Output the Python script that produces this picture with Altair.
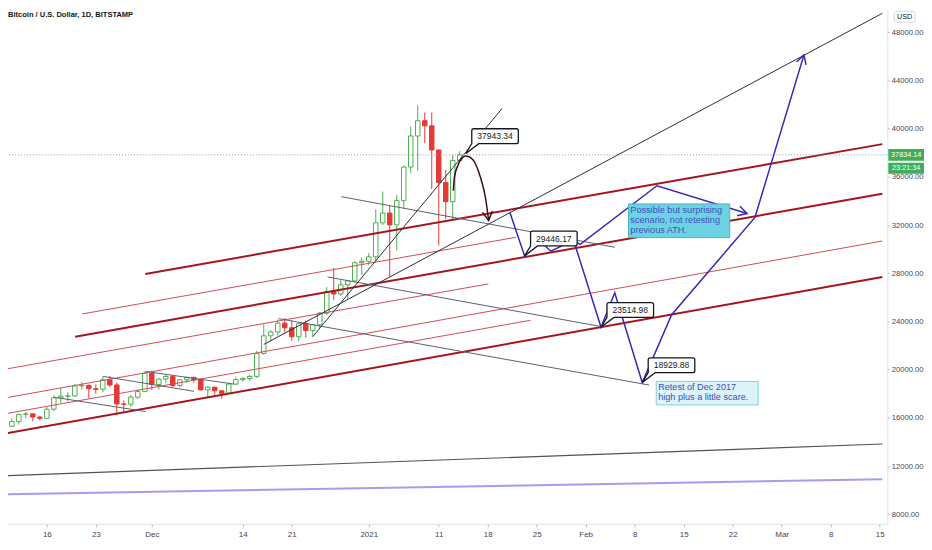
import altair as alt
import pandas as pd

BASE_MS = 1609459200000  # 2021-01-01 00:00 UTC
DAY_MS = 86400000


def to_ms(d):
    return BASE_MS + d * DAY_MS


FONT = "Liberation Sans, Arial, sans-serif"

# ---------------- candles (days relative to 2021-01-01) ----------------
candle_day = list(range(-52, 14))  # 2020-11-10 .. 2021-01-14
opens = [15330, 15300, 15700, 16290, 16330, 16070, 15960, 16720, 17660, 17800, 17820, 18650, 18700, 18420, 18370, 19160, 18730, 17150, 17130, 17720, 18180,
         19700, 18770, 19220, 19440, 18690, 19160, 19360, 19170, 18330, 18550, 18250, 18040, 18800, 19170, 19270, 19440, 21350, 22810, 23130, 23860, 23480,
         22740, 23820, 23250, 23730, 24700, 26490, 26280, 27040, 27370, 28880,
         28990, 29370, 32190, 33000, 32020, 34030, 36820, 39400, 40670, 40240, 38240, 35540, 33950, 37370]
highs = [15480, 15960, 16340, 16480, 16340, 16140, 16880, 17860, 18480, 18140, 18800, 18960, 18750, 18770, 19420, 19480, 18920, 17460, 17890, 18350, 19860,
         19920, 19320, 19580, 19500, 19160, 19410, 19420, 19280, 18630, 18560, 18270, 18940, 19410, 19340, 19570, 21560, 23770, 23280, 24170, 24290, 24100,
         23830, 24100, 23800, 24770, 26850, 28420, 27480, 27400, 28990, 29300,
         29680, 33300, 34780, 33600, 34500, 36950, 40180, 41950, 41350, 41350, 38250, 36600, 37850, 38150]
lows = [15090, 15280, 15440, 15970, 15710, 15790, 15880, 16560, 17220, 17350, 17760, 18340, 17620, 18000, 18120, 18570, 16200, 16440, 16890, 17560, 18180,
        18320, 18340, 18920, 18570, 18530, 18900, 18910, 18250, 17650, 17930, 17580, 18020, 18730, 19000, 19070, 19300, 21230, 22350, 22820, 23070, 22400,
        22360, 22650, 22700, 23450, 24520, 25800, 26110, 25880, 27330, 27860,
        28690, 29000, 32000, 27700, 29900, 33400, 36310, 36500, 38800, 35000, 30300, 32500, 32380, 37300]
closes = [15300, 15700, 16290, 16330, 16070, 15960, 16720, 17660, 17800, 17820, 18650, 18700, 18420, 18370, 19160, 18730, 17150, 17130, 17720, 18180, 19700,
          18770, 19220, 19440, 18690, 19160, 19360, 19170, 18330, 18550, 18250, 18040, 18800, 19170, 19270, 19440, 21350, 22810, 23130, 23860, 23480, 22740,
          23820, 23250, 23730, 24700, 26490, 26280, 27040, 27370, 28880, 28990,
          29370, 32190, 33000, 32020, 34030, 36820, 39400, 40670, 40240, 38240, 35540, 33950, 37370, 37834]

current_price = 37834.14
countdown = "23:21:34"

# ---------------- drawn trend lines: (start day, end day), (start price, end price) ----------------
thick_red_lines = {
    "T1": ([-31.93, 73.39], [27941, 38723]),
    "T2": ([-41.96, 73.39], [22732, 34608]),
    "T3": ([-51.96, 73.39], [14691, 27695]),
}
thin_red_lines = {
    "ta": ([-51.96, 17.09], [20041, 27118]),
    "tb": ([-51.96, 73.39], [17654, 30682]),
    "tc": ([-51.96, 23.11], [16337, 24098]),
    "td": ([-40.95, 21.01], [24625, 30987]),
}
gray_lines = {
    "G1": ([-3.92, 35.15], [34361, 30164]),
    "G2": ([-5.88, 33.19], [27695, 23580]),
    "G3": ([-12.89, 40.06], [24238, 18724]),
    "G5a": ([-44.96, -31.89], [17712, 16526]),
    "G5b": ([-37.96, -24.97], [19440, 18205]),
    "G5c": ([-31.89, -19.29], [19851, 18806]),
}
black_lines = {
    "L1": ([-7.98, 19.05], [22757, 41686]),
    "L2": ([-14.99, 73.39], [22098, 49586]),
}
bottom_dark_line = {"B1": ([-51.96, 73.39], [11193, 13827])}
purple_line = {"P1": ([-51.96, 73.39], [9646, 10905])}

# projected paths
pathA_day = [20.17, 22.27, 24.37, 26.01, 29.27, 30.21, 41.18, 54.06]
pathA_price = [33044, 29446, 30740, 29834, 30740, 30410, 35266, 32962]
pathB_day = [29.27, 33.19, 35.15, 39.08, 43.28, 55.18, 62.18]
pathB_price = [30740, 23515, 26378, 18930, 24567, 32633, 46130]

curve_day = [12.09, 12.23, 12.70, 13.31, 13.87, 14.57, 15.27, 15.97, 16.67, 17.13]
curve_price = [34855, 35950, 36912, 37546, 37735, 37595, 37052, 35949, 34303, 32386]

arrow_day = [54.06, 62.18, 17.13]
arrow_price = [32962, 46130, 32386]
arrow_angle = [17, 287, 82]
arrow_color = ["#3a28b5", "#3a28b5", "#3b0d14"]

callout_day = [13.87, 22.27, 33.19, 39.08]
callout_price = [37943.34, 29446.17, 23514.98, 18929.88]

note1_text = "Possible but surprising\nscenario, not retesting\nprevious ATH."
note1_box = ([37.11, 51.58], [33760, 30962])
note1_anchor = (37.38, 33570)
note2_text = "Retest of Dec 2017\nhigh plus a little scare."
note2_box = ([41.08, 55.64], [19028, 17078])
note2_anchor = (41.35, 18905)

tick_days = [-46, -39, -31, -18, -11, 0, 10, 17, 24, 31, 38, 45, 52, 59, 66, 73]
price_ticks = list(range(8000, 50001, 2000))

x_domain_days = [-50.84, 73.39]
y_domain = [7202, 49833]

# ---------------- build tables ----------------
candles = pd.DataFrame({
    "t": [to_ms(d) for d in candle_day],
    "o": opens, "h": highs, "l": lows, "c": closes,
})
candles["dir"] = ["up" if c >= o else "down" for o, c in zip(opens, closes)]


def lines_df(d):
    rows = []
    for name, (days, prices) in d.items():
        for i, (dd, pp) in enumerate(zip(days, prices)):
            rows.append({"id": name, "i": i, "t": to_ms(dd), "p": pp})
    return pd.DataFrame(rows)


paths = pd.DataFrame(
    [{"id": "A", "i": i, "t": to_ms(d), "p": p} for i, (d, p) in enumerate(zip(pathA_day, pathA_price))]
    + [{"id": "B", "i": i, "t": to_ms(d), "p": p} for i, (d, p) in enumerate(zip(pathB_day, pathB_price))]
)
curve = pd.DataFrame({"i": range(len(curve_day)), "t": [to_ms(d) for d in curve_day], "p": curve_price})
arrows = pd.DataFrame({"t": [to_ms(d) for d in arrow_day], "p": arrow_price, "ang": arrow_angle, "col": arrow_color})
callouts = pd.DataFrame({"t": [to_ms(d) for d in callout_day], "p": callout_price,
                         "label": [f"{v:.2f}" for v in callout_price]})
notes_box = pd.DataFrame({
    "t1": [to_ms(note1_box[0][0]), to_ms(note2_box[0][0])],
    "t2": [to_ms(note1_box[0][1]), to_ms(note2_box[0][1])],
    "p1": [note1_box[1][0], note2_box[1][0]],
    "p2": [note1_box[1][1], note2_box[1][1]],
    "fill": ["#6dd3e3", "#dcf3f8"],
    "stroke": ["#45b3c6", "#8ccad7"],
})
notes_text = pd.DataFrame({
    "t": [to_ms(note1_anchor[0]), to_ms(note2_anchor[0])],
    "p": [note1_anchor[1], note2_anchor[1]],
    "txt": [note1_text, note2_text],
})

# ---------------- scales & axes ----------------
xs = alt.Scale(type="utc", domain=[to_ms(x_domain_days[0]), to_ms(x_domain_days[1])], nice=False)
ys = alt.Scale(domain=y_domain, nice=False, zero=False)

xax = alt.Axis(
    values=[to_ms(d) for d in tick_days],
    labelExpr="utcdate(datum.value) == 1 ? (utcmonth(datum.value) == 0 ? utcFormat(datum.value, '%Y') : utcFormat(datum.value, '%b')) : utcFormat(datum.value, '%-d')",
    grid=False, tickSize=3, tickColor="#b2b5be", domainColor="#e0e3eb",
    labelFont=FONT, labelFontSize=8, labelColor="#434651", labelPadding=4,
    labelOverlap=False, labelFlush=False, title=None,
)
yax = alt.Axis(
    orient="right", values=price_ticks, format=".2f",
    grid=False, tickSize=2, tickColor="#b2b5be", domainColor="#e0e3eb",
    labelFont=FONT, labelFontSize=7.7, labelColor="#434651", labelPadding=2,
    labelOverlap=False, labelFlush=False, title=None,
)


def X(f):
    return alt.X(f"{f}:T", scale=xs, axis=xax)


def Y(f):
    return alt.Y(f"{f}:Q", scale=ys, axis=yax)


GREEN = "#4caf50"
RED = "#e53935"
dir_scale_stroke = alt.Scale(domain=["up", "down"], range=[GREEN, RED])
dir_scale_fill = alt.Scale(domain=["up", "down"], range=["#ffffff", RED])

wicks = alt.Chart(candles).mark_rule(strokeWidth=1, clip=True).encode(
    x=X("t"), y=Y("l"), y2="h:Q",
    stroke=alt.Stroke("dir:N", scale=dir_scale_stroke, legend=None),
)
bodies = alt.Chart(candles).mark_bar(size=4.5, strokeWidth=1, clip=True).encode(
    x=X("t"), y=Y("o"), y2="c:Q",
    fill=alt.Fill("dir:N", scale=dir_scale_fill, legend=None),
    stroke=alt.Stroke("dir:N", scale=dir_scale_stroke, legend=None),
)


def line_layer(d, color, width, dash=None):
    kw = dict(color=color, strokeWidth=width, clip=True)
    if dash:
        kw["strokeDash"] = dash
    return alt.Chart(lines_df(d)).mark_line(**kw).encode(
        x=X("t"), y=Y("p"), detail="id:N", order="i:Q")


price_line = alt.Chart().mark_rule(color="#9598a1", strokeDash=[1, 2], strokeWidth=1).encode(
    y=alt.datum(current_price))

blue_paths = alt.Chart(paths).mark_line(color="#3a28b5", strokeWidth=1.5, clip=True).encode(
    x=X("t"), y=Y("p"), detail="id:N", order="i:Q")

curve_layer = alt.Chart(curve).mark_line(color="#3b0d14", strokeWidth=1.5, interpolate="monotone").encode(
    x=X("t"), y=Y("p"), order="i:Q")

arrow_layer = alt.Chart(arrows).mark_point(
    shape="M -9 -5 L 0 0 L -9 5", filled=False, size=4, strokeWidth=1.5, opacity=1).encode(
    x=X("t"), y=Y("p"), angle=alt.Angle("ang:Q", scale=None), stroke=alt.Stroke("col:N", scale=None))

callout_shape = "M 0 0 L 6 -10 L 6 -23 Q 6 -25 8 -25 L 51 -25 Q 53 -25 53 -23 L 53 -12 Q 53 -10 51 -10 L 13 -10 Z"
callout_boxes = alt.Chart(callouts).mark_point(
    shape=callout_shape, filled=True, fill="#ffffff", stroke="#131722", strokeWidth=1.3, size=4, opacity=1).encode(
    x=X("t"), y=Y("p"))
callout_text = alt.Chart(callouts).mark_text(
    dx=29.5, dy=-17.5, align="center", baseline="middle", font=FONT, fontSize=8.6, color="#131722").encode(
    x=X("t"), y=Y("p"), text="label:N")

note_boxes = alt.Chart(notes_box).mark_rect(strokeWidth=1).encode(
    x=X("t1"), x2="t2:T", y=Y("p1"), y2="p2:Q",
    fill=alt.Fill("fill:N", scale=None), stroke=alt.Stroke("stroke:N", scale=None))
note_text = alt.Chart(notes_text).mark_text(
    align="left", baseline="top", lineBreak="\n", lineHeight=10, font=FONT, fontSize=9.2, color="#3d4fc0").encode(
    x=X("t"), y=Y("p"), text="txt:N")

# right price scale badges
badge1 = alt.Chart().mark_rect(color="#3fae5a", yOffset=-6, y2Offset=6).encode(
    x=alt.value(888), x2=alt.value(926), y=alt.datum(current_price), y2=alt.datum(current_price))
badge1_text = alt.Chart().mark_text(color="white", font=FONT, fontSize=7.3, align="center", baseline="middle").encode(
    x=alt.value(906), y=alt.datum(current_price), text=alt.value(f"{current_price:.2f}"))
badge2 = alt.Chart().mark_rect(color="#3fae5a", yOffset=8, y2Offset=19).encode(
    x=alt.value(888), x2=alt.value(926), y=alt.datum(current_price), y2=alt.datum(current_price))
badge2_text = alt.Chart().mark_text(color="white", font=FONT, fontSize=7.3, align="center", baseline="middle", dy=13.5).encode(
    x=alt.value(906), y=alt.datum(current_price), text=alt.value(countdown))

usd_box = alt.Chart().mark_rect(fill="white", stroke="#d1d4dc", strokeWidth=1, cornerRadius=2).encode(
    x=alt.value(894), x2=alt.value(915), y=alt.value(1), y2=alt.value(12))
usd_text = alt.Chart().mark_text(font=FONT, fontSize=7.3, color="#131722", align="center", baseline="middle").encode(
    x=alt.value(904.5), y=alt.value(6.5), text=alt.value("USD"))

title = alt.Chart().mark_text(font=FONT, fontSize=7.6, fontWeight="bold", color="#131722",
                              align="left", baseline="middle").encode(
    x=alt.value(0), y=alt.value(5), text=alt.value("Bitcoin / U.S. Dollar, 1D, BITSTAMP"))

chart = alt.layer(
    wicks, bodies,
    line_layer(purple_line, "#a49df5", 2),
    line_layer(bottom_dark_line, "#50535e", 1.2),
    line_layer(thin_red_lines, "#d24a55", 1),
    line_layer(thick_red_lines, "#a8141c", 2),
    line_layer(gray_lines, "#5d606b", 1),
    line_layer(black_lines, "#2a2e39", 1),
    price_line,
    blue_paths, curve_layer, arrow_layer,
    callout_boxes, callout_text,
    note_boxes, note_text,
    badge1, badge1_text, badge2, badge2_text,
    usd_box, usd_text, title,
).properties(
    width=887, height=518,
    autosize=alt.AutoSizeParams(type="none"),
    padding={"left": 0, "top": 0, "right": 37, "bottom": 16},
    background="white",
).configure_view(stroke=None)

chart.save("out.html", embed_options={"renderer": "svg", "actions": False})
